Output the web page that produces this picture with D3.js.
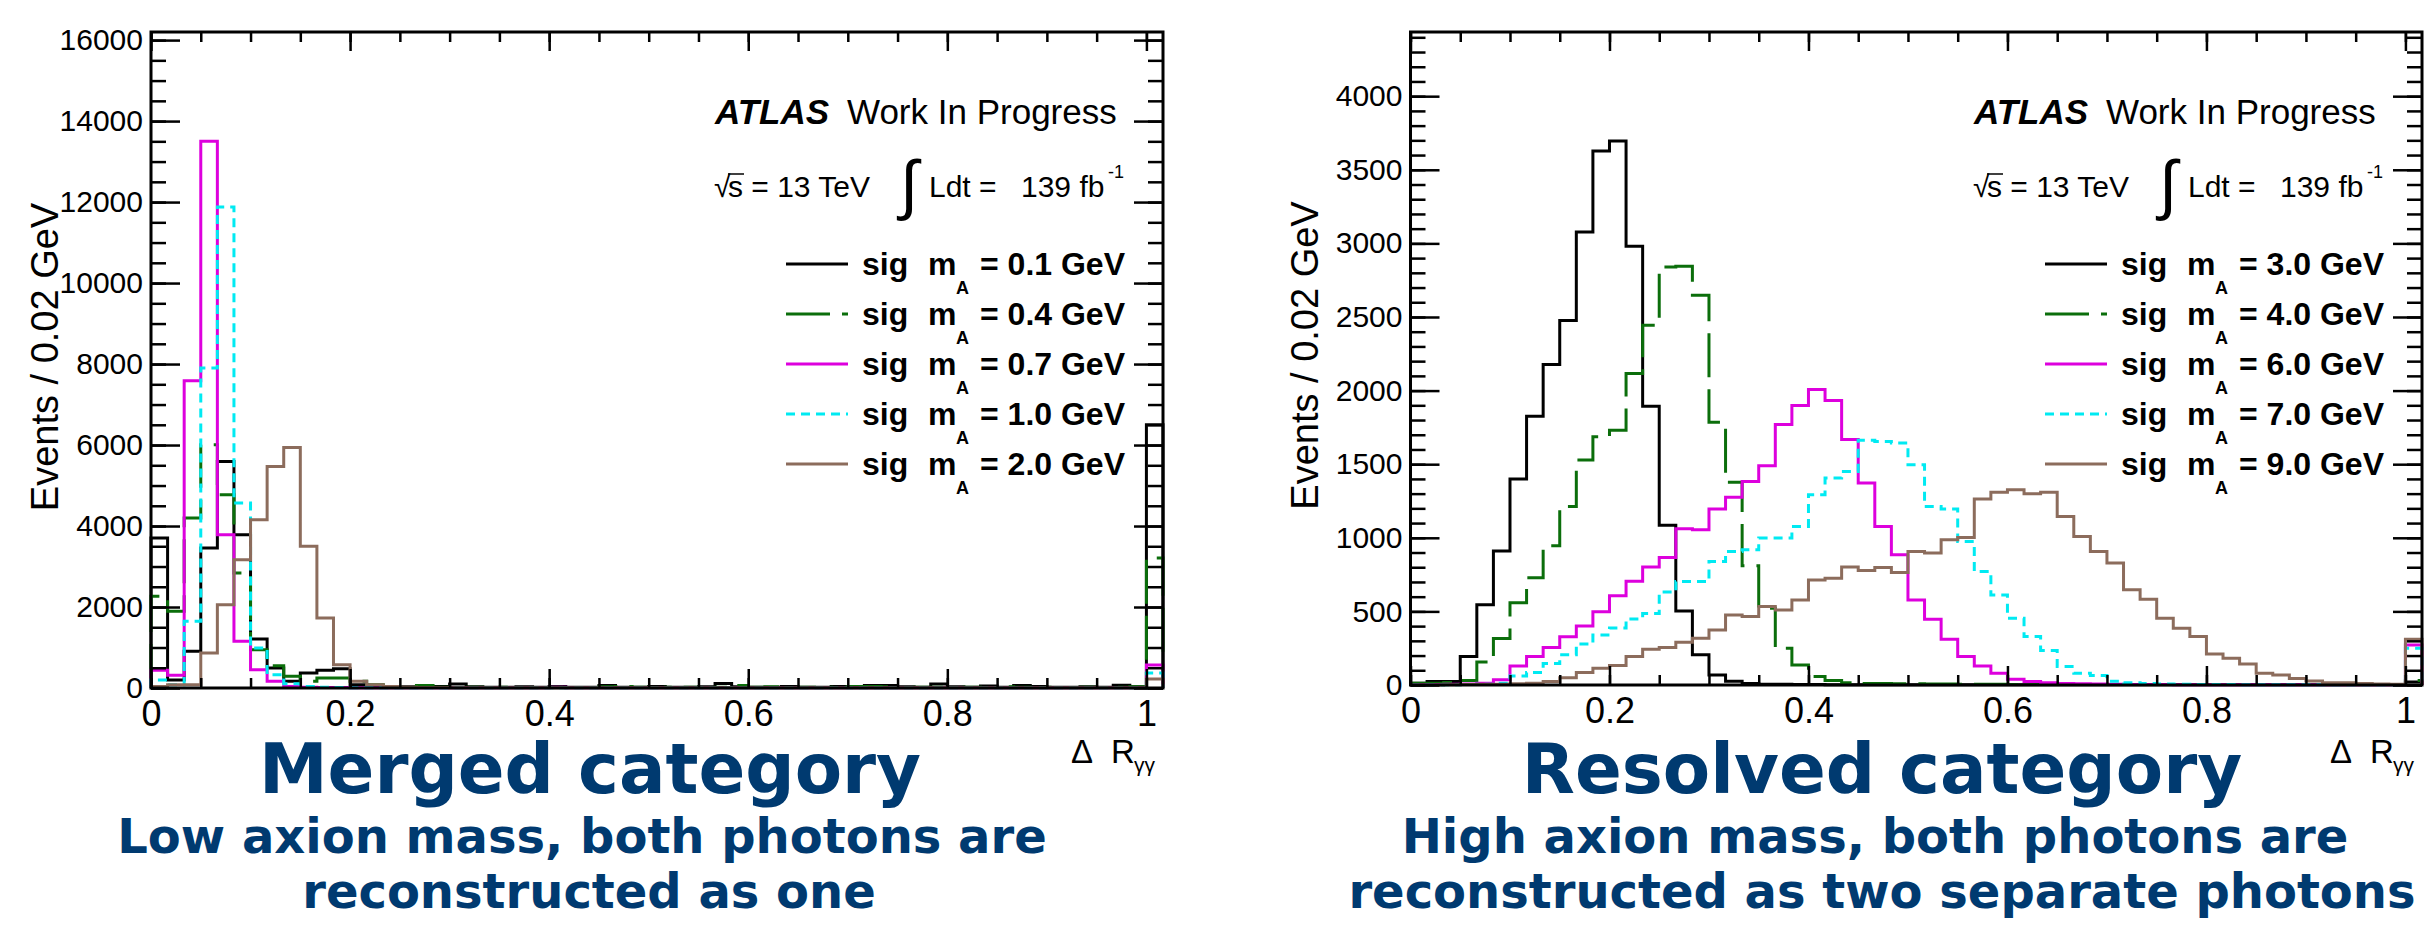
<!DOCTYPE html>
<html>
<head>
<meta charset="utf-8">
<script src="https://cdn.jsdelivr.net/npm/d3@7"></script>
<style>
  body { margin: 0; background: #fff; }
  svg { display: block; }
  text { font-family: "Liberation Sans", Arial, Helvetica, sans-serif; }
</style>
</head>
<body>
<svg id="chart" width="2424" height="927"></svg>
<script>
// bins: 60 bins of 1/60 in Delta R plus the overflow bin drawn after 1.0
var binCount = 61;
var binWidth = 1 / 60;

var xTickValues = [0, 0.2, 0.4, 0.6, 0.8, 1];
var mergedYTicks = [0, 2000, 4000, 6000, 8000, 10000, 12000, 14000, 16000];
var resolvedYTicks = [0, 500, 1000, 1500, 2000, 2500, 3000, 3500, 4000];
var mergedYMax = 16200;
var resolvedYMax = 4436;

var mergedMasses = ["0.1", "0.4", "0.7", "1.0", "2.0"];
var resolvedMasses = ["3.0", "4.0", "6.0", "7.0", "9.0"];

// merged category (low mass)
var merged01 = [3704, 200, 905, 3457, 5596, 3786, 1210, 494, 165, 370,
  436, 477, 82, 40, 20, 30, 20, 40, 100, 30,
  20, 20, 30, 20, 40, 20, 20, 60, 20, 20,
  40, 20, 20, 30, 110, 30, 20, 20, 40, 20,
  20, 40, 30, 60, 60, 30, 20, 100, 30, 20,
  50, 20, 60, 40, 20, 20, 30, 20, 70, 30,
  6500];
var merged04 = [2263, 1893, 4197, 6008, 4773, 2839, 946, 551, 288, 165,
  247, 247, 165, 82, 40, 20, 60, 20, 10, 20,
  10, 20, 10, 10, 20, 10, 10, 30, 40, 20,
  10, 20, 20, 10, 20, 60, 20, 30, 10, 20,
  10, 20, 40, 40, 30, 10, 20, 20, 10, 20,
  10, 30, 20, 10, 20, 10, 20, 10, 20, 30,
  3210];
var merged07 = [436, 313, 7588, 13500, 3786, 1152, 450, 165, 40, 20,
  10, 10, 5, 5, 5, 5, 5, 5, 5, 5,
  5, 5, 5, 5, 20, 5, 5, 5, 5, 5,
  5, 5, 5, 5, 5, 5, 5, 5, 5, 5,
  5, 5, 5, 5, 5, 5, 5, 5, 5, 5,
  5, 5, 5, 5, 5, 5, 5, 5, 5, 5,
  568];
var merged10 = [200, 80, 1646, 7900, 11880, 4568, 988, 330, 107, 40,
  20, 10, 5, 5, 5, 5, 5, 5, 5, 5,
  5, 5, 5, 5, 5, 5, 5, 5, 5, 5,
  5, 5, 5, 5, 5, 5, 5, 5, 5, 5,
  5, 10, 5, 5, 5, 5, 5, 5, 5, 5,
  5, 5, 5, 5, 5, 5, 5, 5, 5, 5,
  370];
var merged20 = [40, 80, 80, 864, 2058, 3169, 4156, 5473, 5942, 3498,
  1728, 576, 165, 82, 40, 20, 10, 10, 5, 5,
  5, 5, 5, 5, 5, 5, 5, 5, 5, 5,
  5, 5, 5, 5, 5, 5, 5, 5, 5, 5,
  5, 5, 5, 5, 5, 5, 5, 5, 5, 5,
  5, 5, 5, 5, 5, 5, 5, 5, 5, 5,
  222];

// resolved category (high mass)
var resolved30 = [12, 24, 24, 194, 546, 910, 1400, 1825, 2177, 2476,
  3077, 3628, 3696, 2980, 1893, 1085, 502, 206, 68, 25,
  11, 5, 5, 3, 3, 2, 2, 2, 2, 2,
  2, 2, 2, 2, 2, 2, 2, 2, 2, 2,
  2, 2, 2, 2, 2, 2, 2, 2, 2, 2,
  2, 2, 2, 2, 2, 2, 2, 2, 2, 2,
  20];
var resolved40 = [12, 12, 17, 31, 156, 316, 558, 728, 946, 1213,
  1529, 1687, 1730, 2116, 2444, 2840, 2844, 2647, 1785, 1377,
  810, 522, 249, 136, 57, 30, 16, 10, 10, 8,
  8, 6, 6, 5, 5, 5, 4, 4, 3, 3,
  3, 3, 3, 3, 3, 3, 3, 3, 3, 3,
  3, 3, 3, 3, 3, 3, 3, 3, 3, 3,
  30];
var resolved60 = [2, 3, 5, 7, 12, 36, 129, 194, 255, 328,
  400, 497, 607, 704, 801, 866, 1061, 1055, 1195, 1275,
  1383, 1490, 1769, 1898, 2007, 1932, 1667, 1372, 1077, 885,
  578, 447, 311, 193, 129, 79, 39, 23, 16, 11,
  8, 6, 5, 4, 3, 3, 2, 2, 2, 2,
  2, 2, 2, 2, 2, 2, 2, 2, 2, 2,
  272];
var resolved70 = [0, 0, 2, 3, 5, 12, 61, 85, 146, 206,
  279, 340, 388, 449, 485, 631, 703, 703, 839, 907,
  918, 998, 998, 1077, 1293, 1406, 1451, 1662, 1655, 1644,
  1497, 1213, 1195, 975, 771, 612, 454, 329, 235, 125,
  80, 65, 25, 15, 10, 6, 5, 4, 3, 3,
  2, 2, 2, 2, 2, 2, 2, 2, 2, 2,
  249];
var resolved90 = [0, 0, 2, 3, 5, 5, 8, 12, 24, 49,
  85, 114, 133, 194, 243, 255, 291, 318, 374, 476,
  465, 533, 510, 578, 714, 726, 801, 778, 798, 764,
  907, 896, 987, 1002, 1263, 1309, 1327, 1300, 1309, 1145,
  1009, 907, 828, 647, 583, 454, 386, 329, 211, 181,
  143, 79, 68, 45, 27, 16, 16, 10, 7, 5,
  311];

var lineStyles = [
  { color: "#000000", dash: null },
  { color: "#0b6e0b", dash: "44,12" },
  { color: "#dd00dd", dash: null },
  { color: "#00eaf2", dash: "9,6" },
  { color: "#8c6c5c", dash: null }
];
var titleBlue = "#003a70";

var svg = d3.select("#chart");

function drawPanel(p) {
  var g = svg.append("g");

  var x = d3.scaleLinear()
    .domain([0, binCount * binWidth])
    .range([p.left, p.right]);
  var y = d3.scaleLinear()
    .domain([0, p.yMax])
    .range([p.bottom, p.top]);

  var step = d3.line()
    .x(function(d) { return x(d[0]); })
    .y(function(d) { return y(d[1]); })
    .curve(d3.curveStepAfter);

  //histograms
  p.series.forEach(function(vals, i) {
    var pts = [[0, 0]];
    vals.forEach(function(v, k) { pts.push([k * binWidth, v]); });
    pts.push([vals.length * binWidth, vals[vals.length - 1]]);
    pts.push([vals.length * binWidth, 0]);
    g.append("path")
      .attr("d", step(pts))
      .attr("fill", "none")
      .attr("stroke", lineStyles[i].color)
      .attr("stroke-width", 3)
      .attr("stroke-dasharray", lineStyles[i].dash);
  });

  var xMinor = d3.range(0, 1.001, 0.05);
  var yMinor = d3.range(0, p.yMax, p.yMinorStep);

  function tidy(sel) {
    sel.select(".domain").remove();
    sel.selectAll("line").attr("stroke", "#000").attr("stroke-width", 2.5);
    sel.attr("font-family", null).attr("font-size", null);
  }

  // bottom
  g.append("g").attr("transform", "translate(0," + p.bottom + ")")
    .call(d3.axisBottom(x).tickValues(xMinor).tickSize(-10).tickSizeOuter(0).tickFormat(""))
    .call(tidy);
  var xb = g.append("g").attr("transform", "translate(0," + p.bottom + ")")
    .call(d3.axisBottom(x).tickValues(xTickValues).tickSize(-19).tickSizeOuter(0)
      .tickPadding(12).tickFormat(d3.format("")))
    .call(tidy);
  xb.selectAll("text").style("font-size", "36px").attr("fill", "#000");

  // top
  g.append("g").attr("transform", "translate(0," + p.top + ")")
    .call(d3.axisTop(x).tickValues(xMinor).tickSize(-10).tickSizeOuter(0).tickFormat(""))
    .call(tidy);
  g.append("g").attr("transform", "translate(0," + p.top + ")")
    .call(d3.axisTop(x).tickValues(xTickValues).tickSize(-19).tickSizeOuter(0).tickFormat(""))
    .call(tidy);

  // left
  g.append("g").attr("transform", "translate(" + p.left + ",0)")
    .call(d3.axisLeft(y).tickValues(yMinor).tickSize(-15).tickSizeOuter(0).tickFormat(""))
    .call(tidy);
  var yl = g.append("g").attr("transform", "translate(" + p.left + ",0)")
    .call(d3.axisLeft(y).tickValues(p.yTicks).tickSize(-29).tickSizeOuter(0)
      .tickPadding(8).tickFormat(d3.format("d")))
    .call(tidy);
  yl.selectAll("text").style("font-size", "30px").attr("fill", "#000");

  // right
  g.append("g").attr("transform", "translate(" + p.right + ",0)")
    .call(d3.axisRight(y).tickValues(yMinor).tickSize(-15).tickSizeOuter(0).tickFormat(""))
    .call(tidy);
  g.append("g").attr("transform", "translate(" + p.right + ",0)")
    .call(d3.axisRight(y).tickValues(p.yTicks).tickSize(-29).tickSizeOuter(0).tickFormat(""))
    .call(tidy);

  // frame
  g.append("rect")
    .attr("x", p.left).attr("y", p.top)
    .attr("width", p.right - p.left).attr("height", p.bottom - p.top)
    .attr("fill", "none").attr("stroke", "#000").attr("stroke-width", 3);

  // y title
  g.append("text")
    .attr("transform", "translate(" + (p.left - 93) + "," + ((p.top + p.bottom) / 2 - 3) + ") rotate(-90)")
    .attr("text-anchor", "middle")
    .style("font-size", "38px")
    .text("Events / 0.02 GeV");

  // x title
  var xt = g.append("text").attr("y", 763).style("font-size", "33px");
  xt.append("tspan").attr("x", p.right - 92).text("\u0394");
  xt.append("tspan").attr("x", p.right - 52).text("R");
  g.append("text").attr("x", p.right - 29).attr("y", 772)
    .style("font-size", "21px").text("\u03b3\u03b3");

  // ATLAS label
  var r = p.right;
  g.append("text").attr("x", r - 448).attr("y", 124)
    .style("font-size", "35px").style("font-weight", "bold").style("font-style", "italic")
    .text("ATLAS");
  g.append("text").attr("x", r - 316).attr("y", 124)
    .style("font-size", "35px").text("Work In Progress");

  g.append("text").attr("x", r - 449).attr("y", 197)
    .style("font-size", "30px").text("\u221a");
  g.append("line")
    .attr("x1", r - 435).attr("x2", r - 419).attr("y1", 174).attr("y2", 174)
    .attr("stroke", "#000").attr("stroke-width", 1.5);
  g.append("text").attr("x", r - 435).attr("y", 197)
    .style("font-size", "30px").text("s = 13 TeV");
  g.append("text").attr("x", r - 254).attr("y", 207)
    .attr("text-anchor", "middle")
    .style("font-size", "66px")
    .text("\u222b");
  g.append("text").attr("x", r - 234).attr("y", 197)
    .style("font-size", "30px").text("Ldt =");
  g.append("text").attr("x", r - 142).attr("y", 197)
    .style("font-size", "30px").text("139 fb");
  g.append("text").attr("x", r - 55).attr("y", 178)
    .style("font-size", "18px").text("-1");

  // legend
  p.masses.forEach(function(m, i) {
    var ly = p.top + 232 + i * 50;
    g.append("line")
      .attr("x1", r - 377).attr("x2", r - 315)
      .attr("y1", ly).attr("y2", ly)
      .attr("stroke", lineStyles[i].color)
      .attr("stroke-width", 3)
      .attr("stroke-dasharray", lineStyles[i].dash);
    g.append("text").attr("x", r - 301).attr("y", ly + 11)
      .style("font-size", "32px").style("font-weight", "bold").text("sig");
    g.append("text").attr("x", r - 235).attr("y", ly + 11)
      .style("font-size", "32px").style("font-weight", "bold").text("m");
    g.append("text").attr("x", r - 207).attr("y", ly + 30)
      .style("font-size", "18px").style("font-weight", "bold").text("A");
    g.append("text").attr("x", r - 183).attr("y", ly + 11)
      .style("font-size", "32px").style("font-weight", "bold").text("= " + m + " GeV");
  });

  // category caption
  g.append("text").attr("x", p.capX).attr("y", 793)
    .attr("text-anchor", "middle")
    .style("font-family", "'DejaVu Sans', sans-serif").style("font-weight", "bold")
    .style("font-size", "69px").attr("fill", titleBlue)
    .text(p.caption);
  p.sub.forEach(function(s, i) {
    g.append("text").attr("x", p.subX[i]).attr("y", 853 + i * 55)
      .attr("text-anchor", "middle")
      .style("font-family", "'DejaVu Sans', sans-serif").style("font-weight", "bold")
      .style("font-size", "48px").attr("fill", titleBlue)
      .text(s);
  });
}

drawPanel({
  left: 151, right: 1163, top: 32, bottom: 688,
  yMax: mergedYMax, yTicks: mergedYTicks, yMinorStep: 500,
  series: [merged01, merged04, merged07, merged10, merged20],
  masses: mergedMasses,
  caption: "Merged category",
  capX: 590,
  sub: ["Low axion mass, both photons are", "reconstructed as one"],
  subX: [582, 589]
});

drawPanel({
  left: 1410.5, right: 2422, top: 32, bottom: 685,
  yMax: resolvedYMax, yTicks: resolvedYTicks, yMinorStep: 100,
  series: [resolved30, resolved40, resolved60, resolved70, resolved90],
  masses: resolvedMasses,
  caption: "Resolved category",
  capX: 1882,
  sub: ["High axion mass, both photons are", "reconstructed as two separate photons"],
  subX: [1875, 1882]
});
</script>
</body>
</html>
